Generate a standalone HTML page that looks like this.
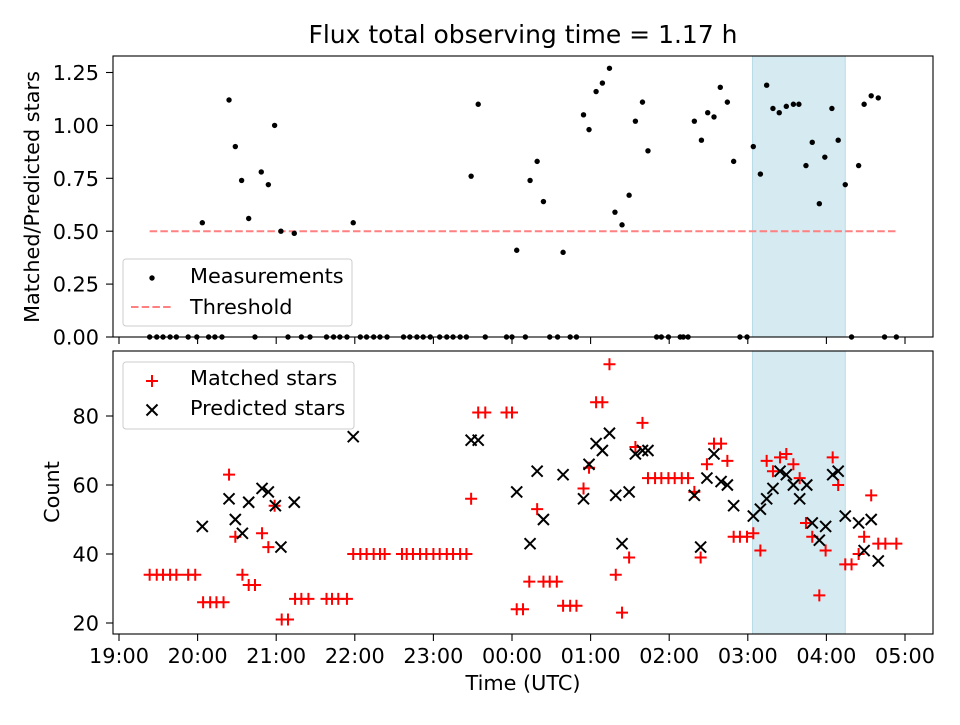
<!DOCTYPE html>
<html><head><meta charset="utf-8"><style>
body{margin:0;background:#fff;}
svg text{font-family:"DejaVu Sans","Liberation Sans",sans-serif;fill:#000;}
</style></head><body>
<svg id="chart" width="960" height="720" xmlns="http://www.w3.org/2000/svg"></svg>
<script>
// Times are hours after 19:00 UTC
const ratioTimes=[1.06,1.40,1.48,1.56,1.65,1.81,1.90,1.98,2.06,2.23,2.98,4.48,4.57,5.06,5.23,5.32,5.40,5.65,5.91,5.98,6.07,6.15,6.24,6.31,6.40,6.49,6.57,6.66,6.73,7.32,7.41,7.49,7.57,7.65,7.74,7.82,8.07,8.16,8.24,8.32,8.40,8.49,8.58,8.65,8.74,8.82,8.91,8.98,9.07,9.15,9.24,9.41,9.48,9.57,9.66];
const ratioValues=[0.54,1.12,0.90,0.74,0.56,0.78,0.72,1.00,0.50,0.49,0.54,0.76,1.10,0.41,0.74,0.83,0.64,0.40,1.05,0.98,1.16,1.20,1.27,0.59,0.53,0.67,1.02,1.11,0.88,1.02,0.93,1.06,1.04,1.18,1.11,0.83,0.90,0.77,1.19,1.08,1.06,1.09,1.10,1.10,0.81,0.92,0.63,0.85,1.08,0.93,0.72,0.81,1.10,1.14,1.13];
const zeroTimes=[0.39,0.48,0.56,0.65,0.73,0.88,0.99,1.14,1.22,1.31,1.73,2.15,2.32,2.43,2.64,2.73,2.81,2.90,3.07,3.15,3.24,3.32,3.41,3.62,3.70,3.79,3.87,3.96,4.08,4.17,4.25,4.34,4.42,4.66,4.93,5.00,5.17,5.48,5.58,5.74,5.82,6.84,6.90,6.99,7.14,7.18,7.24,7.90,7.99,9.32,9.74,9.89];
const matchedTimes=[0.39,0.48,0.56,0.65,0.73,0.88,0.97,1.07,1.16,1.24,1.33,1.40,1.48,1.57,1.65,1.73,1.82,1.90,1.98,2.07,2.15,2.24,2.32,2.41,2.64,2.71,2.79,2.90,2.98,3.07,3.15,3.24,3.32,3.38,3.60,3.66,3.74,3.83,3.91,4.00,4.08,4.17,4.25,4.34,4.42,4.48,4.57,4.66,4.93,5.00,5.06,5.14,5.22,5.32,5.40,5.48,5.57,5.65,5.74,5.82,5.91,5.98,6.07,6.15,6.24,6.32,6.40,6.49,6.57,6.66,6.73,6.82,6.90,6.99,7.07,7.16,7.24,7.32,7.40,7.48,7.57,7.66,7.74,7.82,7.90,7.99,8.07,8.16,8.24,8.32,8.41,8.49,8.58,8.66,8.74,8.82,8.91,8.99,9.08,9.15,9.24,9.32,9.41,9.48,9.57,9.66,9.75,9.89];
const matchedValues=[34,34,34,34,34,34,34,26,26,26,26,63,45,34,31,31,46,42,54,21,21,27,27,27,27,27,27,27,40,40,40,40,40,40,40,40,40,40,40,40,40,40,40,40,40,56,81,81,81,81,24,24,32,53,32,32,32,25,25,25,59,65,84,84,95,34,23,39,71,78,62,62,62,62,62,62,62,58,39,66,72,72,67,45,45,45,46,41,67,64,68,69,66,62,49,45,28,41,68,60,37,37,40,45,57,43,43,43];
const predictedTimes=[1.06,1.40,1.48,1.57,1.65,1.82,1.90,1.99,2.06,2.23,2.98,4.48,4.57,5.06,5.23,5.32,5.40,5.65,5.91,5.98,6.07,6.15,6.24,6.32,6.40,6.49,6.57,6.66,6.73,7.32,7.40,7.48,7.57,7.66,7.74,7.82,8.07,8.16,8.24,8.32,8.41,8.49,8.58,8.66,8.75,8.82,8.91,8.99,9.08,9.15,9.24,9.41,9.48,9.57,9.66];
const predictedValues=[48,56,50,46,55,59,58,54,42,55,74,73,73,58,43,64,50,63,56,66,72,70,75,57,43,58,69,70,70,57,42,62,69,61,60,54,51,53,56,59,64,63,60,56,60,49,44,48,63,64,51,49,41,50,38];
const xTickLabels=["19:00","20:00","21:00","22:00","23:00","00:00","01:00","02:00","03:00","04:00","05:00"];
const topTicks=[0,0.25,0.5,0.75,1.0,1.25];
const botTicks=[20,40,60,80];
const threshold=0.5, thrStart=0.39, thrEnd=9.89;
const spanStart=8.06, spanEnd=9.24;

const NS="http://www.w3.org/2000/svg";
const svg=document.getElementById('chart');
function el(tag,attrs,parent){const e=document.createElementNS(NS,tag);for(const k in attrs)e.setAttribute(k,attrs[k]);(parent||svg).appendChild(e);return e;}
const L=113,R=933,T1=56,B1=337,T2=351,B2=634;
const FS=20.8;
const X=t=>119+t*78.6;
const Y1=v=>337-v*211.6;
const Y2=c=>623-(c-20)*3.45;

for(const [t,b,nm] of [[T1,B1,'top'],[T2,B2,'bottom']]){
  const r=el('rect',{x:X(spanStart),y:t,width:X(spanEnd)-X(spanStart),height:b-t,fill:'#d5eaf1',stroke:'#b9dbe6','stroke-width':1});
  
  
}
const th=el('line',{x1:X(thrStart),x2:X(thrEnd),y1:Y1(threshold),y2:Y1(threshold),stroke:'#ff8080','stroke-width':2,'stroke-dasharray':'7.5,3.2'});


ratioTimes.forEach((t,i)=>{const c=el('circle',{cx:X(t),cy:Y1(ratioValues[i]),r:2.7,fill:'#000'});

});
zeroTimes.forEach(t=>{const c=el('circle',{cx:X(t),cy:Y1(0),r:2.7,fill:'#000'});

});
function plus(x,y,name){const g=el('path',{d:`M${x-6},${y}H${x+6}M${x},${y-6}V${y+6}`,stroke:'#ff0000','stroke-width':2,fill:'none'});

}
function cross(x,y,name){const g=el('path',{d:`M${x-5.5},${y-5.5}L${x+5.5},${y+5.5}M${x-5.5},${y+5.5}L${x+5.5},${y-5.5}`,stroke:'#000','stroke-width':2,fill:'none'});

}
matchedTimes.forEach((t,i)=>plus(X(t),Y2(matchedValues[i]),'matched-point'));
predictedTimes.forEach((t,i)=>cross(X(t),Y2(predictedValues[i]),'predicted-point'));

for(const [t,b,nm] of [[T1,B1,'top'],[T2,B2,'bottom']]){
  const f=el('rect',{x:L,y:t,width:R-L,height:b-t,fill:'none',stroke:'#000','stroke-width':1.1});
  
  
  xTickLabels.forEach((s,i)=>{el('line',{x1:X(i),x2:X(i),y1:b,y2:b+7,stroke:'#000','stroke-width':1.1});});
}
xTickLabels.forEach((s,i)=>{const tx=el('text',{x:X(i),y:B2+29,'font-size':FS,'text-anchor':'middle'});tx.textContent=s;

});
topTicks.forEach(v=>{el('line',{x1:L-7,x2:L,y1:Y1(v),y2:Y1(v),stroke:'#000','stroke-width':1.1});
const tx=el('text',{x:L-14,y:Y1(v)+7.6,'font-size':FS,'text-anchor':'end'});tx.textContent=v.toFixed(2);

});
botTicks.forEach(v=>{el('line',{x1:L-7,x2:L,y1:Y2(v),y2:Y2(v),stroke:'#000','stroke-width':1.1});
const tx=el('text',{x:L-14,y:Y2(v)+7.6,'font-size':FS,'text-anchor':'end'});tx.textContent=v;

});
</script>
<svg style="position:absolute;left:0;top:0" width="960" height="720" xmlns="http://www.w3.org/2000/svg">
<text x="523" y="43" font-size="25" text-anchor="middle">Flux total observing time = 1.17 h</text>
<text transform="translate(39,197) rotate(-90)" font-size="20.8" text-anchor="middle">Matched/Predicted stars</text>
<text transform="translate(59,492) rotate(-90)" font-size="20.8" text-anchor="middle">Count</text>
<text x="523" y="690" font-size="20.8" text-anchor="middle">Time (UTC)</text>
<g>
<rect x="123" y="259" width="229" height="67" rx="3" fill="#fff" fill-opacity="0.8" stroke="#ccc"/>
<circle cx="152" cy="278" r="2.7" fill="#000"/>
<text x="190" y="283" font-size="20.8">Measurements</text>
<line x1="131" x2="173" y1="307" y2="307" stroke="#ff8080" stroke-width="2" stroke-dasharray="7.5,3.2"/>
<text x="190" y="314" font-size="20.8">Threshold</text>
</g>
<g>
<rect x="123" y="362" width="231" height="67" rx="3" fill="#fff" fill-opacity="0.8" stroke="#ccc"/>
<path d="M146,381H158M152,375V387" stroke="#f00" stroke-width="2"/>
<text x="190" y="385" font-size="20.8">Matched stars</text>
<path d="M146.5,404.5L157.5,415.5M146.5,415.5L157.5,404.5" stroke="#000" stroke-width="2"/>
<text x="190" y="415" font-size="20.8">Predicted stars</text>
</g>
</svg>
</body></html>
